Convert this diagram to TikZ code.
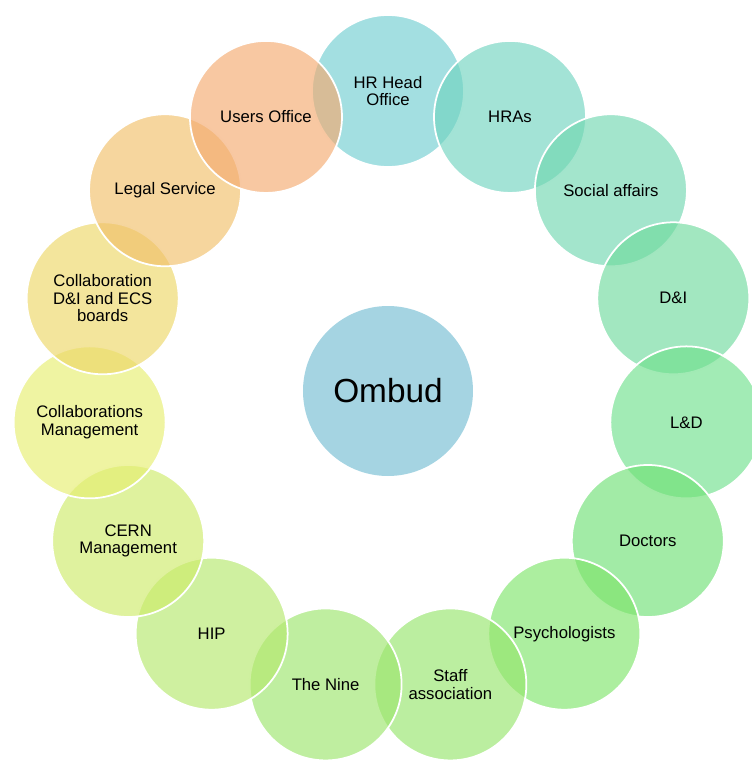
\documentclass[tikz,border=0pt]{standalone}
\usepackage{fontspec}
\setmainfont{Liberation Sans}

\begin{document}
\begin{tikzpicture}
  % Define colors
  \definecolor{ombudblue}{RGB}{165,212,226}
  \definecolor{hrhead}{RGB}{113,206,209}
  \definecolor{hras}{RGB}{113,212,192}
  \definecolor{social}{RGB}{113,215,177}
  \definecolor{dandi}{RGB}{112,218,158}
  \definecolor{landd}{RGB}{112,224,141}
  \definecolor{doctors}{RGB}{112,224,118}
  \definecolor{psych}{RGB}{127,229,107}
  \definecolor{staff}{RGB}{151,229,109}
  \definecolor{nine}{RGB}{157,229,109}
  \definecolor{hip}{RGB}{181,232,109}
  \definecolor{cernmgmt}{RGB}{206,235,106}
  \definecolor{collmgmt}{RGB}{230,238,112}
  \definecolor{colldi}{RGB}{237,215,103}
  \definecolor{legal}{RGB}{241,192,106}
  \definecolor{users}{RGB}{244,170,112}

  \useasboundingbox (-7.76,-7.38) rectangle (7.28,7.82);
  \clip (-7.76,-7.38) rectangle (7.28,7.82);

  % Centre circle
  \node[circle, fill=ombudblue, minimum size=3.4cm, inner sep=0pt, font=\fontsize{19}{22}\selectfont] (ombud) at (0,0) {Ombud};

  % Ring of circles, clockwise from the top
  \foreach \i/\col/\txt in {0/hrhead/{HR Head\\Office}, 1/hras/HRAs, 2/social/Social affairs, 3/dandi/D\&I, 4/landd/L\&D, 5/doctors/Doctors, 6/psych/Psychologists, 7/staff/{Staff\\association}, 8/nine/The Nine, 9/hip/HIP, 10/cernmgmt/{CERN\\Management}, 11/collmgmt/{Collaborations\\Management}, 12/colldi/{Collaboration\\D\&I and ECS\\boards}, 13/legal/Legal Service, 14/users/Users Office} {
    \pgfmathsetmacro{\ang}{90-24*\i}
    \node[circle, draw=white, line width=1pt, fill=\col, fill opacity=0.65, text opacity=1, minimum size=3.04cm, inner sep=0pt, align=center, font=\fontsize{9.5}{10}\selectfont] (ring\i) at (\ang:6) {\txt};
  }
\end{tikzpicture}
\end{document}
